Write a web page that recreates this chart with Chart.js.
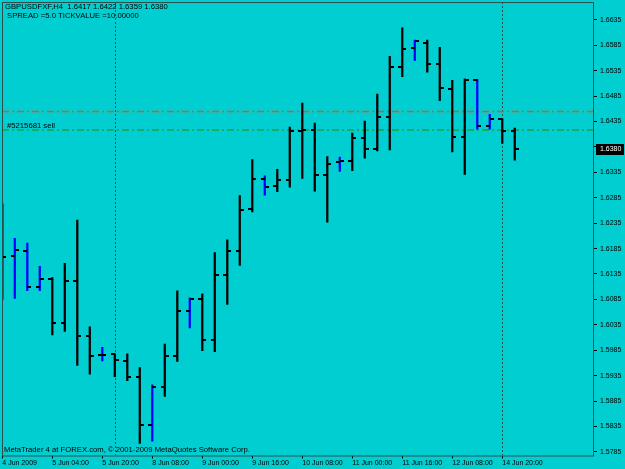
<!DOCTYPE html>
<html>
<head>
<meta charset="utf-8">
<script src="https://cdn.jsdelivr.net/npm/chart.js@4.4.0/dist/chart.umd.min.js"></script>
<style>
  html, body { margin: 0; padding: 0; background: #00CED1; }
  #chart { display: block; }
</style>
</head>
<body>
<canvas id="chart" width="625" height="469"></canvas>
<script>
// GBPUSD H4 bars, one entry per bar (left to right)
var opens  = [1.6230, 1.6170, 1.6180, 1.6110, 1.6126, 1.6039, 1.6122, 1.6013, 1.5975, 1.5978,
              1.5964, 1.5932, 1.5838, 1.5913, 1.5973, 1.6063, 1.6085, 1.6006, 1.6133, 1.6181,
              1.6262, 1.6322, 1.6308, 1.6319, 1.6417, 1.6418, 1.6330, 1.6356, 1.6358, 1.6403,
              1.6381, 1.6444, 1.6543, 1.6579, 1.6590, 1.6548, 1.6499, 1.6404, 1.6517, 1.6427,
              1.6439, 1.6417];
var highs  = [1.6273, 1.6205, 1.6196, 1.6150, 1.6128, 1.6156, 1.6241, 1.6031, 1.5991, 1.5978,
              1.5978, 1.5951, 1.5917, 1.5997, 1.6102, 1.6088, 1.6096, 1.6177, 1.6202, 1.6289,
              1.6360, 1.6328, 1.6341, 1.6424, 1.6471, 1.6432, 1.6366, 1.6365, 1.6412, 1.6436,
              1.6489, 1.6563, 1.6619, 1.6595, 1.6595, 1.6581, 1.6516, 1.6519, 1.6518, 1.6449,
              1.6440, 1.6422];
var lows   = [1.6085, 1.6087, 1.6102, 1.6102, 1.6015, 1.6022, 1.5955, 1.5938, 1.5964, 1.5933,
              1.5925, 1.5802, 1.5806, 1.5894, 1.5963, 1.6029, 1.5984, 1.5982, 1.6075, 1.6152,
              1.6257, 1.6290, 1.6297, 1.6306, 1.6323, 1.6298, 1.6237, 1.6337, 1.6338, 1.6363,
              1.6377, 1.6379, 1.6523, 1.6555, 1.6532, 1.6476, 1.6375, 1.6331, 1.6420, 1.6420,
              1.6392, 1.6359];
var closes = [1.6169, 1.6182, 1.6110, 1.6125, 1.6039, 1.6121, 1.6014, 1.5974, 1.5976, 1.5966,
              1.5932, 1.5838, 1.5913, 1.5973, 1.6062, 1.6085, 1.6005, 1.6133, 1.6181, 1.6261,
              1.6322, 1.6307, 1.6319, 1.6416, 1.6418, 1.6330, 1.6352, 1.6357, 1.6403, 1.6381,
              1.6444, 1.6543, 1.6578, 1.6594, 1.6548, 1.6501, 1.6405, 1.6517, 1.6427, 1.6440,
              1.6417, 1.6380];
// bars drawn in blue
var blueBars = [1, 2, 3, 8, 12, 15, 21, 27, 33, 38, 39];

// axis labels
var xTickBars = [0, 4, 8, 12, 16, 20, 24, 28, 32, 36, 40];
var xLabels = ['4 Jun 2009', '5 Jun 04:00', '5 Jun 20:00', '8 Jun 08:00', '9 Jun 00:00',
               '9 Jun 16:00', '10 Jun 08:00', '11 Jun 00:00', '11 Jun 16:00', '12 Jun 08:00',
               '14 Jun 20:00'];
var yTicks = [1.5785, 1.5835, 1.5885, 1.5935, 1.5985, 1.6035, 1.6085, 1.6135, 1.6185,
              1.6235, 1.6285, 1.6335, 1.6385, 1.6435, 1.6485, 1.6535, 1.6585, 1.6635];

// week separators and order lines
var separatorBars = [9, 40];
var orderPrice = 1.6419;
var stopPrice = 1.6455;
var orderLabel = '#5215681 sell';
var headerLine1 = 'GBPUSDFXF,H4  1.6417 1.6422 1.6359 1.6380';
var headerLine2 = 'SPREAD =5.0 TICKVALUE =10.00000';
var copyright = 'MetaTrader 4 at FOREX.com, \u00A9 2001-2009 MetaQuotes Software Corp.';

var BG = '#00CED1';
var FRAME = '#2f4f4f';
var FONT = '7.7px "Liberation Sans", Arial, sans-serif';

Chart.defaults.font.family = '"Liberation Sans", Arial, sans-serif';
Chart.defaults.font.size = 7;
Chart.defaults.color = '#000';

var hlData = [];
for (var i = 0; i < highs.length; i++) {
  hlData.push({ x: i, y: [lows[i], highs[i]] });
}
var barColors = hlData.map(function (d, i) {
  return blueBars.indexOf(i) >= 0 ? '#0000FF' : '#000000';
});

var mt4Plugin = {
  id: 'mt4',
  beforeDraw: function (chart) {
    var ctx = chart.ctx;
    ctx.save();
    ctx.fillStyle = BG;
    ctx.fillRect(0, 0, chart.width, chart.height);
    ctx.restore();
  },
  beforeDatasetsDraw: function (chart) {
    var ctx = chart.ctx, a = chart.chartArea;
    var xs = chart.scales.x, ys = chart.scales.y;
    ctx.save();
    ctx.beginPath();
    ctx.rect(a.left, a.top, a.right - a.left, a.bottom - a.top);
    ctx.clip();
    // week separators
    ctx.strokeStyle = FRAME;
    ctx.lineWidth = 1;
    ctx.setLineDash([2, 2]);
    separatorBars.forEach(function (b) {
      var px = Math.round(xs.getPixelForValue(b)) + 0.5;
      ctx.beginPath();
      ctx.moveTo(px, a.top);
      ctx.lineTo(px, a.bottom);
      ctx.stroke();
    });
    // stop line
    ctx.setLineDash([7, 3, 2, 3]);
    ctx.strokeStyle = '#E8501E';
    ctx.lineWidth = 1.3;
    var py = Math.round(ys.getPixelForValue(stopPrice)) + 0.5;
    ctx.beginPath(); ctx.moveTo(a.left, py); ctx.lineTo(a.right, py); ctx.stroke();
    // order line
    ctx.strokeStyle = '#1FA040';
    ctx.lineWidth = 1.6;
    py = Math.round(ys.getPixelForValue(orderPrice));
    ctx.beginPath(); ctx.moveTo(a.left, py); ctx.lineTo(a.right, py); ctx.stroke();
    ctx.restore();
  },
  afterDatasetsDraw: function (chart) {
    var ctx = chart.ctx, a = chart.chartArea;
    var xs = chart.scales.x, ys = chart.scales.y;
    ctx.save();
    ctx.beginPath();
    ctx.rect(a.left, a.top, a.right - a.left, a.bottom - a.top);
    ctx.clip();
    ctx.fillStyle = '#000';
    for (var i = 0; i < opens.length; i++) {
      var px = Math.round(xs.getPixelForValue(i));
      var yo = Math.round(ys.getPixelForValue(opens[i]));
      var yc = Math.round(ys.getPixelForValue(closes[i]));
      ctx.fillRect(px - 4, yo - 1, 4, 2);
      ctx.fillRect(px, yc - 1, 4, 2);
    }
    ctx.restore();
  },
  afterDraw: function (chart) {
    var ctx = chart.ctx, a = chart.chartArea, ys = chart.scales.y;
    ctx.save();
    // frame
    ctx.strokeStyle = FRAME;
    ctx.lineWidth = 1;
    ctx.strokeRect(a.left + 0.5, a.top + 0.5, a.right - a.left - 1, a.bottom - a.top);
    // texts
    ctx.font = FONT;
    ctx.fillStyle = '#000';
    ctx.textBaseline = 'middle';
    ctx.textAlign = 'left';
    ctx.fillText(headerLine1, 5, 7);
    ctx.fillText(headerLine2, 7, 16);
    ctx.fillText(orderLabel, 7, Math.round(ys.getPixelForValue(orderPrice)) - 4);
    ctx.fillText(copyright, 4, a.bottom - 6);
    // current price box
    var last = closes[closes.length - 1];
    var py = Math.round(ys.getPixelForValue(last));
    ctx.font = '7px "Liberation Sans", Arial, sans-serif';
    ctx.fillStyle = '#000';
    ctx.fillRect(a.right + 2, py - 5, 28, 11);
    ctx.fillStyle = '#fff';
    ctx.fillText(last.toFixed(4), a.right + 6, py + 0.5);
    ctx.restore();
  }
};

new Chart(document.getElementById('chart'), {
  type: 'bar',
  data: {
    datasets: [{
      data: hlData,
      backgroundColor: barColors,
      borderWidth: 0,
      barThickness: 1.6,
      grouped: false
    }]
  },
  options: {
    responsive: false,
    animation: false,
    devicePixelRatio: 1,
    layout: { padding: { left: 2, top: 2, right: 0, bottom: 0 } },
    plugins: { legend: { display: false }, tooltip: { enabled: false } },
    scales: {
      x: {
        type: 'linear',
        bounds: 'data',
        offset: false,
        min: -0.024,
        max: 47.34,
        afterBuildTicks: function (axis) {
          axis.ticks = xTickBars.map(function (v) { return { value: v }; });
        },
        afterFit: function (axis) {
          axis.height = 13.5;
          axis.paddingLeft = 0;
          axis.paddingRight = 0;
        },
        ticks: {
          autoSkip: false,
          maxRotation: 0,
          align: 'start',
          padding: 0,
          callback: function (v, idx) { return xLabels[idx]; }
        },
        grid: { drawOnChartArea: false, offset: false, tickLength: 3, color: '#000' },
        border: { display: false }
      },
      y: {
        position: 'right',
        bounds: 'data',
        min: 1.5778,
        max: 1.6670,
        afterBuildTicks: function (axis) {
          axis.ticks = yTicks.map(function (v) { return { value: v }; });
        },
        afterFit: function (axis) {
          axis.width = 31;
          axis.paddingTop = 0;
          axis.paddingBottom = 0;
        },
        ticks: {
          autoSkip: false,
          padding: 3,
          callback: function (v) { return v.toFixed(4); }
        },
        grid: { drawOnChartArea: false, tickLength: 3, color: '#000' },
        border: { display: false }
      }
    }
  },
  plugins: [mt4Plugin]
});
</script>
</body>
</html>
